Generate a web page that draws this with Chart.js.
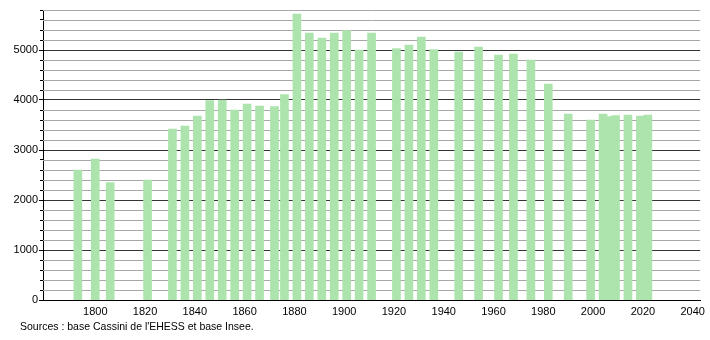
<!DOCTYPE html>
<html>
<head>
<meta charset="utf-8">
<script src="https://cdn.jsdelivr.net/npm/chart.js@4/dist/chart.umd.min.js"></script>
<style>
  html, body { margin: 0; padding: 0; background: #fff; }
  #wrap { position: relative; width: 710px; height: 340px; }
  #source {
    position: absolute; left: 20px; top: 320px;
    font: 10.5px "Liberation Sans", Arial, sans-serif; color: #000;
  }
</style>
</head>
<body>
<div id="wrap">
  <canvas id="popChart" width="710" height="340"></canvas>
  <div id="source">Sources : base Cassini de l'EHESS et base Insee.</div>
</div>
<script>
// census years and population
const years = [1793, 1800, 1806, 1821, 1831, 1836, 1841, 1846, 1851, 1856,
  1861, 1866, 1872, 1876, 1881, 1886, 1891, 1896, 1901, 1906,
  1911, 1921, 1926, 1931, 1936, 1946, 1954, 1962, 1968, 1975,
  1982, 1990, 1999, 2004, 2006, 2009, 2014, 2019, 2022];
const population = [2600, 2820, 2350, 2400, 3420, 3480, 3680, 3990, 4000, 3800,
  3920, 3880, 3870, 4110, 5720, 5340, 5240, 5340, 5390, 5000,
  5340, 5030, 5100, 5260, 5010, 4960, 5060, 4900, 4920, 4800,
  4320, 3720, 3600, 3720, 3670, 3690, 3700, 3680, 3700];
const xTicks = [1800, 1820, 1840, 1860, 1880, 1900, 1920, 1940, 1960, 1980, 2000, 2020, 2040];
const yMajorTicks = [0, 1000, 2000, 3000, 4000, 5000];
const yMinorTicks = [200, 400, 600, 800, 1200, 1400, 1600, 1800, 2200, 2400, 2600, 2800,
  3200, 3400, 3600, 3800, 4200, 4400, 4600, 4800, 5200, 5400, 5600, 5800];

const font = { family: "'Liberation Sans', Arial, sans-serif", size: 11 };

// light gridlines every 200, drawn under the bars
const minorGrid = {
  id: "minorGrid",
  beforeDatasetsDraw(chart) {
    const { ctx, chartArea, scales } = chart;
    ctx.save();
    ctx.strokeStyle = "#a8a8a8";
    ctx.lineWidth = 1;
    yMinorTicks.forEach((v) => {
      const py = Math.round(scales.y.getPixelForValue(v)) + 0.5;
      ctx.beginPath();
      ctx.moveTo(chartArea.left, py);
      ctx.lineTo(chartArea.right, py);
      ctx.stroke();
    });
    ctx.restore();
  },
};

new Chart(document.getElementById("popChart"), {
  type: "bar",
  data: {
    datasets: [{
      data: years.map((y, i) => ({ x: y, y: population[i] })),
      backgroundColor: "#ade4ad",
      barThickness: 8,
    }],
  },
  options: {
    responsive: false,
    animation: false,
    layout: { padding: { top: 10, right: 8, left: 0, bottom: 0 } },
    plugins: { legend: { display: false }, tooltip: { enabled: false } },
    scales: {
      x: {
        type: "linear",
        offset: false,
        min: 1779,
        max: 2043,
        grid: { display: false, drawTicks: false },
        border: { display: true, color: "#000" },
        afterBuildTicks: (axis) => {
          axis.ticks = xTicks.map((v) => ({ value: v }));
        },
        afterFit: (axis) => { axis.height = 40; },
        ticks: {
          color: "#000",
          font: font,
          padding: 5,
          maxRotation: 0,
          autoSkip: false,
          callback: (v) => String(v),
        },
      },
      // only the small tick marks every 200
      yMinor: {
        type: "linear",
        position: "left",
        weight: 0,
        min: 0,
        max: 5800,
        afterBuildTicks: (axis) => {
          axis.ticks = yMinorTicks.map((v) => ({ value: v }));
        },
        afterFit: (axis) => { axis.width = 0; },
        grid: { drawOnChartArea: false, tickColor: "#000", tickLength: 3 },
        border: { display: false },
        ticks: { display: false, autoSkip: false },
      },
      y: {
        position: "left",
        weight: 1,
        min: 0,
        max: 5800,
        afterBuildTicks: (axis) => {
          axis.ticks = yMajorTicks.map((v) => ({ value: v }));
        },
        afterFit: (axis) => { axis.width = 43; },
        grid: { color: "#333", tickColor: "#000", tickLength: 4 },
        border: { display: true, color: "#000" },
        ticks: {
          color: "#000",
          font: font,
          padding: 1,
          autoSkip: false,
          callback: (v) => String(v),
        },
      },
    },
  },
  plugins: [minorGrid],
});
</script>
</body>
</html>
